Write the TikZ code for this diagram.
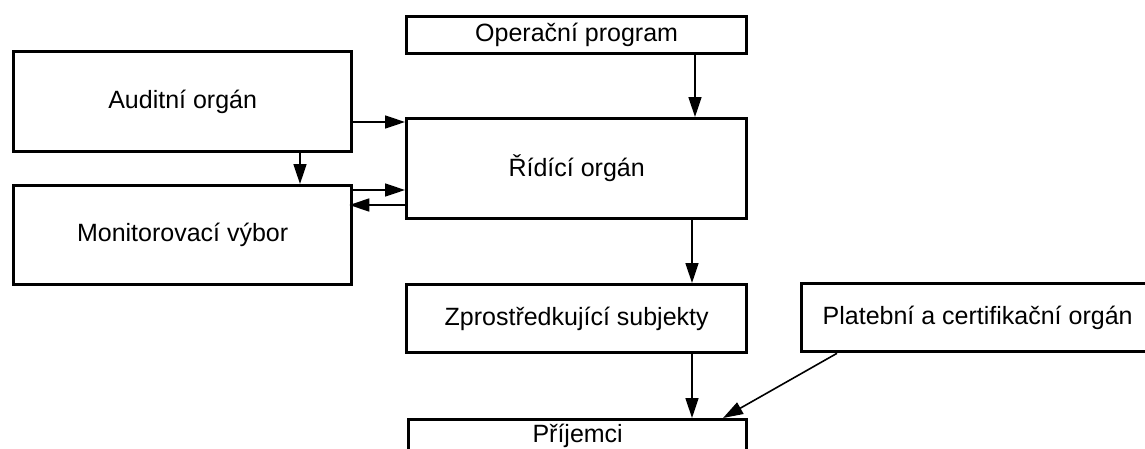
\documentclass[tikz,border=0pt]{standalone}
\usepackage{fontspec}
\setmainfont{Liberation Sans}
\usetikzlibrary{arrows.meta}
\begin{document}
\begin{tikzpicture}[x=1pt,y=-1pt,
 box/.style={draw, line width=3.3pt, inner sep=0pt, anchor=north west, font=\fontsize{25}{30}\selectfont},
 arr/.style={line width=1.6pt, -{Triangle[length=20pt,width=13pt]}}]
\useasboundingbox (0,0) rectangle (1145,448);
\fill[white] (0,0) rectangle (1145,448);
\clip (0,0) rectangle (1145,448);
\node[box, minimum width=340pt, minimum height=37pt] (op) at (405,15) {Operační program};
\node[box, minimum width=338pt, minimum height=100pt] (aud) at (12,50) {Auditní orgán};
\node[box, minimum width=338pt, minimum height=99pt] (mon) at (12,184) {Monitorovací výbor};
\node[box, minimum width=340pt, minimum height=100pt] (rid) at (405,117) {Řídící orgán};
\node[box, minimum width=340pt, minimum height=68pt] (zpr) at (405,283) {Zprostředkující subjekty};
\node[box, minimum width=352pt, minimum height=68pt] (plat) at (800,282) {Platební a certifikační orgán};
\node[box, minimum width=338pt, minimum height=33pt] (pri) at (407,418) {Příjemci};
\draw[arr] (op.south -| 695,0) -- (rid.north -| 695,0);
\draw[arr] (aud.east |- 0,122) -- (rid.west |- 0,122);
\draw[arr] (aud.south -| 300,0) -- (mon.north -| 300,0);
\draw[arr] (mon.east |- 0,190) -- (rid.west |- 0,190);
\draw[arr] (rid.west |- 0,205) -- ([xshift=-4pt]mon.east |- 0,205);
\draw[arr] (rid.south -| 692,0) -- (zpr.north -| 692,0);
\draw[arr] (zpr.south -| 692,0) -- (pri.north -| 692,0);
\draw[arr] (plat.south -| 837,0) -- (pri.north -| 723,0);
\end{tikzpicture}
\end{document}
